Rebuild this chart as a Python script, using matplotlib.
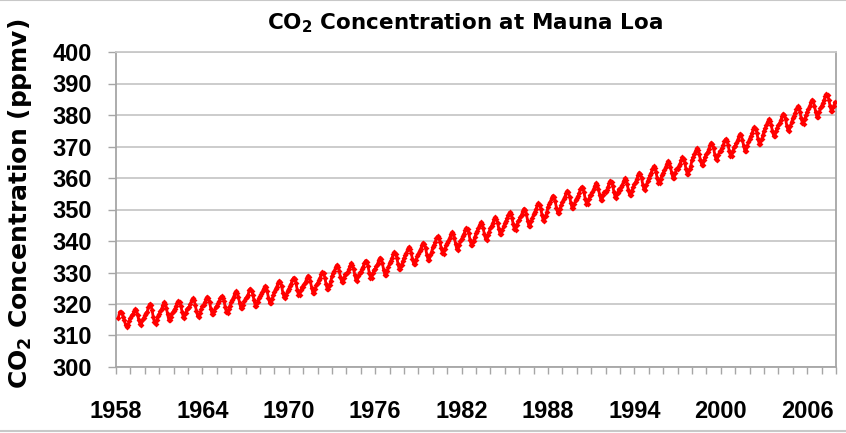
import numpy as np
import matplotlib
matplotlib.use("Agg")
import matplotlib.pyplot as plt
from matplotlib.lines import Line2D

plt.rcParams["font.family"] = ["Liberation Sans", "DejaVu Sans"]
plt.rcParams["mathtext.fontset"] = "custom"
plt.rcParams["mathtext.rm"] = "DejaVu Sans:bold"
plt.rcParams["mathtext.it"] = "DejaVu Sans:bold"
plt.rcParams["mathtext.bf"] = "DejaVu Sans:bold"

# monthly CO2 (ppmv), Jan..Dec per year; 1958 starts in March
first_year = 1958
first_month = 3
co2_1958 = [315.7, 317.5, 317.5, 317.1, 315.9, 314.9, 313.2, 312.7, 313.3, 314.7]
co2_rows = [
    [315.6, 316.4, 316.7, 317.7, 318.3, 318.2, 316.5, 314.8, 313.8, 313.3, 314.8, 315.6],  # 1959
    [316.4, 317.0, 317.6, 319.0, 320.0, 319.6, 318.2, 315.9, 314.2, 313.8, 315.0, 316.2],
    [316.9, 317.7, 318.5, 319.6, 320.5, 319.9, 318.7, 316.7, 315.0, 315.0, 316.0, 317.1],
    [317.9, 318.5, 319.4, 320.4, 321.0, 320.6, 319.3, 317.6, 316.0, 315.7, 317.0, 318.3],
    [318.6, 319.1, 320.0, 321.2, 321.8, 321.3, 319.8, 317.8, 316.2, 316.0, 317.2, 318.3],
    [319.3, 319.8, 320.5, 321.7, 322.3, 321.9, 320.5, 318.5, 316.9, 316.8, 317.9, 318.9],  # 1964
    [319.5, 320.2, 320.8, 322.0, 322.5, 322.0, 321.0, 319.0, 317.4, 317.2, 318.4, 319.5],
    [320.6, 321.4, 322.2, 323.5, 324.0, 323.6, 322.2, 320.3, 318.6, 318.6, 319.8, 321.0],
    [321.8, 322.2, 322.9, 324.3, 324.9, 324.2, 322.9, 321.2, 319.5, 319.4, 320.7, 321.8],
    [322.4, 323.1, 323.9, 324.9, 325.6, 325.5, 324.1, 322.0, 320.4, 320.3, 321.5, 322.8],
    [323.9, 324.8, 325.5, 326.8, 327.3, 326.9, 325.7, 323.6, 322.2, 321.8, 322.9, 324.2],
    [324.9, 325.7, 326.5, 327.7, 328.4, 327.9, 326.6, 324.6, 323.0, 322.9, 324.3, 325.5],  # 1970
    [325.5, 326.3, 327.1, 328.3, 329.0, 328.5, 327.2, 325.2, 323.6, 323.5, 324.9, 326.1],
    [326.7, 327.5, 328.3, 329.5, 330.2, 329.7, 328.4, 326.4, 324.8, 324.7, 326.1, 327.3],
    [328.9, 329.7, 330.5, 331.7, 332.4, 331.9, 330.6, 328.6, 327.0, 326.9, 328.3, 329.5],
    [329.4, 330.2, 331.0, 332.2, 332.9, 332.4, 331.1, 329.1, 327.5, 327.4, 328.8, 330.0],
    [330.3, 331.1, 331.9, 333.1, 333.8, 333.3, 332.0, 330.0, 328.4, 328.3, 329.7, 330.9],
    [331.2, 332.0, 332.8, 334.0, 334.7, 334.2, 332.9, 330.9, 329.3, 329.2, 330.6, 331.8],  # 1976
    [333.0, 333.8, 334.6, 335.8, 336.5, 336.0, 334.7, 332.7, 331.1, 331.0, 332.4, 333.6],
    [334.6, 335.4, 336.2, 337.4, 338.1, 337.6, 336.3, 334.3, 332.7, 332.6, 334.0, 335.2],
    [336.0, 336.8, 337.6, 338.8, 339.5, 339.0, 337.7, 335.7, 334.1, 334.0, 335.4, 336.6],
    [338.0, 338.8, 339.6, 340.8, 341.5, 341.0, 339.7, 337.7, 336.1, 336.0, 337.4, 338.6],
    [339.3, 340.1, 340.9, 342.1, 342.8, 342.3, 341.0, 339.0, 337.4, 337.3, 338.7, 339.9],
    [340.7, 341.5, 342.3, 343.5, 344.2, 343.7, 342.4, 340.4, 338.8, 338.7, 340.1, 341.3],  # 1982
    [342.4, 343.2, 344.0, 345.2, 345.9, 345.4, 344.1, 342.1, 340.5, 340.4, 341.8, 343.0],
    [344.1, 344.9, 345.7, 346.9, 347.6, 347.1, 345.8, 343.8, 342.2, 342.1, 343.5, 344.7],
    [345.6, 346.4, 347.2, 348.4, 349.1, 348.6, 347.3, 345.3, 343.7, 343.6, 345.0, 346.2],
    [346.8, 347.6, 348.4, 349.6, 350.3, 349.8, 348.5, 346.5, 344.9, 344.8, 346.2, 347.4],
    [348.5, 349.3, 350.1, 351.3, 352.0, 351.5, 350.2, 348.2, 346.6, 346.5, 347.9, 349.1],
    [350.9, 351.7, 352.5, 353.7, 354.4, 353.9, 352.6, 350.6, 349.0, 348.9, 350.3, 351.5],  # 1988
    [352.4, 353.2, 354.0, 355.2, 355.9, 355.4, 354.1, 352.1, 350.5, 350.4, 351.8, 353.0],
    [353.5, 354.3, 355.2, 356.4, 357.2, 356.7, 355.4, 353.4, 351.9, 351.8, 353.3, 354.5],
    [354.7, 355.5, 356.4, 357.6, 358.4, 357.9, 356.6, 354.6, 353.1, 353.0, 354.5, 355.7],
    [355.5, 356.3, 357.2, 358.4, 359.2, 358.7, 357.4, 355.4, 353.9, 353.8, 355.3, 356.5],
    [356.2, 357.0, 357.9, 359.1, 359.9, 359.4, 358.1, 356.1, 354.6, 354.5, 356.0, 357.2],
    [358.0, 358.8, 359.7, 360.9, 361.7, 361.2, 359.9, 357.9, 356.4, 356.3, 357.8, 359.0],  # 1994
    [360.0, 360.8, 361.7, 362.9, 363.7, 363.2, 361.9, 359.9, 358.4, 358.3, 359.8, 361.0],
    [361.7, 362.5, 363.4, 364.6, 365.4, 364.9, 363.6, 361.6, 360.1, 360.0, 361.5, 362.7],
    [362.9, 363.7, 364.6, 365.8, 366.6, 366.1, 364.8, 362.8, 361.3, 361.2, 362.7, 363.9],
    [365.8, 366.6, 367.5, 368.7, 369.5, 369.0, 367.7, 365.7, 364.2, 364.1, 365.6, 366.8],
    [367.5, 368.3, 369.2, 370.4, 371.2, 370.7, 369.4, 367.4, 365.9, 365.8, 367.3, 368.5],
    [368.7, 369.5, 370.4, 371.6, 372.4, 371.9, 370.6, 368.6, 367.1, 367.0, 368.5, 369.7],  # 2000
    [370.3, 371.1, 372.0, 373.2, 374.0, 373.5, 372.2, 370.2, 368.7, 368.6, 370.1, 371.3],
    [372.5, 373.3, 374.2, 375.4, 376.2, 375.7, 374.4, 372.4, 370.9, 370.8, 372.3, 373.5],
    [375.0, 375.8, 376.7, 377.9, 378.7, 378.2, 376.9, 374.9, 373.4, 373.3, 374.8, 376.0],
    [376.7, 377.5, 378.4, 379.6, 380.4, 379.9, 378.6, 376.6, 375.1, 375.0, 376.5, 377.7],
    [379.0, 379.8, 380.7, 381.9, 382.7, 382.2, 380.9, 378.9, 377.4, 377.3, 378.8, 380.0],
    [381.1, 381.9, 382.8, 384.0, 384.8, 384.3, 383.0, 381.0, 379.5, 379.4, 380.9, 382.1],  # 2006
    [383.0, 383.8, 384.7, 385.9, 386.7, 386.2, 384.9, 382.9, 381.4, 381.3, 382.8, 384.0],
]

year_ticks = list(range(1958, 2009))
year_labels = [str(y) if (y - 1958) % 6 == 0 else "" for y in year_ticks]
y_ticks = list(range(300, 401, 10))

values = list(co2_1958)
for row in co2_rows:
    values.extend(row)
values = np.array(values)
t = first_year + (first_month - 1) / 12 + np.arange(len(values)) / 12

fig = plt.figure(figsize=(8.46, 4.33), dpi=100)
ax = fig.add_axes([116 / 846, 1 - 367 / 433, 720 / 846, 315 / 433])

ax.plot(t, values, color="#ff0000", lw=2.0, marker="D", ms=3.0, mew=0, zorder=3)

ax.set_xlim(1958, 2008)
ax.set_ylim(300, 400)
ax.set_yticks(y_ticks)
ax.set_xticks(year_ticks)
ax.set_xticklabels(year_labels)
ax.grid(axis="y", color="#c8c8c8", lw=1.3)
ax.set_axisbelow(True)
for s in ax.spines.values():
    s.set_color("#a6a6a6")
    s.set_linewidth(1.3)
ax.spines["top"].set_color("#c8c8c8")

ax.tick_params(axis="x", direction="out", length=5, width=1, color="#a6a6a6",
               pad=19, labelsize=17)
ax.tick_params(axis="y", direction="out", length=6, width=1, color="#a6a6a6",
               pad=11, labelsize=17)
for lab in ax.get_xticklabels() + ax.get_yticklabels():
    lab.set_fontweight("bold")

fig.text(465 / 846, 1 - 23 / 433, r"CO$_2$ Concentration at Mauna Loa",
         ha="center", va="center", fontsize=15.5, fontweight="bold",
         family="DejaVu Sans")
fig.text(20 / 846, 1 - 204 / 433, r"CO$_2$ Concentration (ppmv)",
         ha="center", va="center", rotation=90, fontsize=18,
         fontweight="bold", family="DejaVu Sans")

fig.add_artist(Line2D([0, 1], [0.999, 0.999], color="#c8c8c8", lw=1.5))
fig.add_artist(Line2D([0, 1], [0.004, 0.004], color="#c8c8c8", lw=1.5))

fig.savefig("out.png", dpi=100)
